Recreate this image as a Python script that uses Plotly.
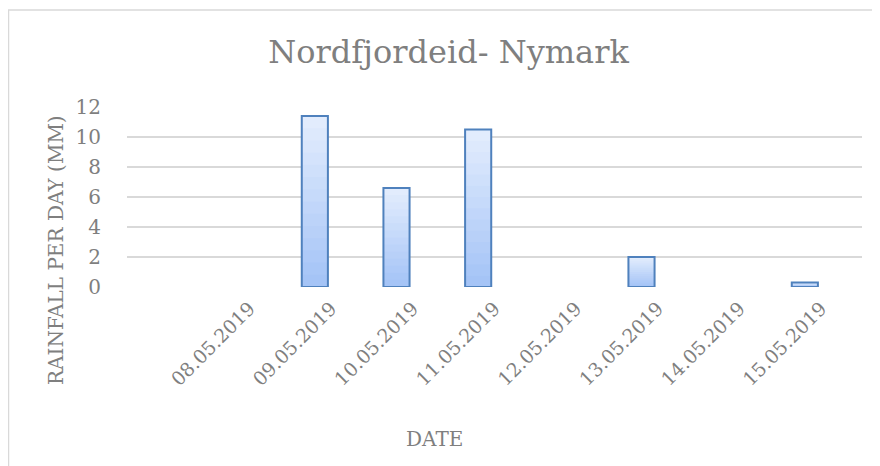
import plotly.graph_objects as go

dates = ["08.05.2019", "09.05.2019", "10.05.2019", "11.05.2019",
         "12.05.2019", "13.05.2019", "14.05.2019", "15.05.2019"]
rainfall = [0, 11.4, 6.6, 10.5, 0, 2.0, 0, 0.3]
y_ticks = [0, 2, 4, 6, 8, 10, 12]

title_text = "Nordfjordeid- Nymark"
x_title = "DATE"
y_title = "RAINFALL PER DAY (MM)"

# the page body adds an 8px offset; work in page pixels and convert
OFF = 8
W, H = 880 - OFF, 466 - OFF
L, R, T = 127 - OFF, 18, 107 - OFF
ph = 180
B = H - T - ph
pw = W - L - R

FONT = "DejaVu Serif"
GRAY = "#7f7f7f"
TOP_C = (226, 236, 253)
BOT_C = (160, 193, 246)

def px2x(p):
    return (p - OFF - L) / pw

def px2y(p):
    return (T + ph - (p - OFF)) / ph

bar_w = 0.32
bar_off = -0.36

fig = go.Figure()
N = 14
for k in range(N):
    t = 1 - k / N
    c = tuple(int(round(BOT_C[i] + (TOP_C[i] - BOT_C[i]) * t)) for i in range(3))
    fig.add_trace(go.Bar(
        x=dates, y=[v * t for v in rainfall],
        width=bar_w, offset=bar_off,
        marker=dict(color="rgb(%d,%d,%d)" % c, line=dict(width=0)),
        hoverinfo="skip", showlegend=False,
    ))
fig.add_trace(go.Bar(
    x=dates, y=rainfall, width=bar_w, offset=bar_off,
    marker=dict(color="rgba(0,0,0,0)",
                line=dict(color="#4f81bd", width=[2 if v > 0 else 0 for v in rainfall])),
    showlegend=False, name="Rainfall",
))

fig.update_layout(
    width=W, height=H,
    margin=dict(l=L, r=R, t=T, b=B, autoexpand=False),
    barmode="overlay",
    paper_bgcolor="white", plot_bgcolor="white",
    font=dict(family=FONT, color=GRAY),
    title=dict(text=title_text, x=(448.5 - OFF) / W, xref="container", xanchor="center",
               y=1 - (52 - OFF) / H, yref="container", yanchor="middle",
               font=dict(family=FONT, size=32, color=GRAY)),
    xaxis=dict(type="category", categoryorder="array", categoryarray=dates,
               range=[-1.5, 7.5], tickangle=-45, showgrid=False,
               showline=False, zeroline=False, ticks="outside", ticklen=2,
               tickcolor="rgba(0,0,0,0)",
               tickfont=dict(family=FONT, size=19, color=GRAY)),
    yaxis=dict(range=[0, 12], tickvals=y_ticks, showgrid=True,
               gridcolor="#d9d9d9", gridwidth=1.5, zeroline=False,
               showline=False, ticks="outside", ticklen=21,
               tickcolor="rgba(0,0,0,0)",
               tickfont=dict(family=FONT, size=20, color=GRAY)),
    annotations=[
        dict(text=y_title, xref="paper", yref="paper", x=px2x(56), y=px2y(250),
             textangle=-90, showarrow=False, xanchor="center", yanchor="middle",
             font=dict(family=FONT, size=20, color=GRAY)),
        dict(text=x_title, xref="paper", yref="paper", x=px2x(434), y=px2y(439),
             showarrow=False, xanchor="center", yanchor="middle",
             font=dict(family=FONT, size=20, color=GRAY)),
    ],
    shapes=[dict(type="rect", xref="paper", yref="paper",
                 x0=px2x(8.5), x1=px2x(884), y0=px2y(10), y1=px2y(472),
                 line=dict(color="#d9d9d9", width=1.5), layer="below")],
)

fig.write_html("out.html")
